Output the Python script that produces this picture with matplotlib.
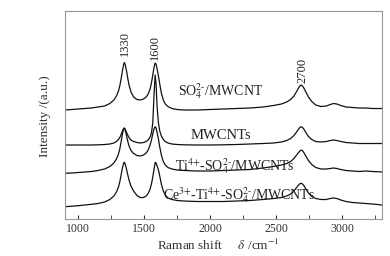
import matplotlib
matplotlib.use('Agg')
import matplotlib.pyplot as plt

plt.rcParams['font.family'] = ['Liberation Serif', 'DejaVu Serif']
plt.rcParams['mathtext.fontset'] = 'stix'

# Raman shift (cm-1), shared by all spectra
shift = [900, 950, 1000, 1050, 1100, 1150, 1200, 1240, 1270, 1290, 1305, 1315, 1325, 1335,
         1345, 1350, 1355, 1365, 1375, 1385, 1400, 1420, 1445, 1470, 1495, 1515, 1530, 1545,
         1555, 1565, 1575, 1583, 1590, 1598, 1608, 1618, 1630, 1645, 1660, 1680, 1710, 1750,
         1800, 1900, 2000, 2100, 2200, 2300, 2400, 2480, 2540, 2580, 2610, 2635, 2655, 2670,
         2680, 2690, 2700, 2712, 2725, 2745, 2770, 2800, 2840, 2880, 2910, 2935, 2960, 2990,
         3030, 3080, 3130, 3180, 3230, 3270, 3300]

# intensities (arbitrary, already offset)
so4_mwcnt = [109, 109.5, 110, 110.5, 111, 112, 113, 115.5, 119, 123, 128, 133, 140, 148,
             155, 156.5, 155, 149, 141, 134, 127, 122, 119.5, 119, 120, 122, 125, 130,
             136, 144, 152, 156, 155, 150, 143, 135, 126, 119, 115, 112.5, 110.5, 109.5,
             109, 109, 109.5, 110, 110.5, 111, 112, 113.5, 115, 117, 119.5, 123, 127.5, 131,
             133, 134, 133, 130.5, 127, 122, 117.5, 114, 112.5, 113, 114.5, 115.5, 115, 113.5,
             112, 111.5, 111, 111, 110.5, 110.5, 110.5]

mwcnts = [74, 74, 74, 74, 74, 74.2, 74.5, 75, 76, 77.5, 79.5, 81.5, 84.5, 88,
          90.5, 90.7, 90, 87, 84, 81.5, 79, 77.5, 76.5, 76, 76.5, 77.5, 79, 82,
          86, 96, 125, 144, 135, 112, 96, 88, 83, 79.5, 77.5, 76, 75, 74.5,
          74.2, 74, 74, 74.2, 74.5, 75, 75.5, 76, 77, 78.5, 80.5, 83.5, 87, 90,
          91.5, 92.3, 91.5, 89.5, 86.5, 82.5, 79.5, 77.5, 77, 77.5, 78.5, 79, 78.5, 77.5,
          76.5, 76, 75.5, 75.5, 75.5, 75.5, 75.5]

ti_so4 = [45.7, 46, 46.5, 47, 47.5, 48.5, 50, 52.5, 56, 60, 65, 70, 77, 85,
          90.5, 91, 89.5, 84, 78, 73, 68.5, 65.5, 63.5, 63, 64, 66, 69, 74,
          79, 85, 90.5, 92.3, 91, 86.5, 80, 72, 64, 57.5, 54, 51.5, 50, 49,
          48.5, 48, 48, 48.5, 49, 49.5, 51, 52.5, 54, 55.5, 57.5, 60.5, 64, 66.5,
          68, 69, 68.3, 66, 63, 58.5, 54.5, 51.5, 50, 50, 50.5, 51, 50.5, 49.5,
          48.5, 48, 47.5, 48, 47.5, 47.3, 47]

ce_ti_so4 = [12.3, 12.8, 13.3, 14, 14.7, 15.5, 17, 19.5, 23, 27, 32, 37, 44, 51,
             56, 56.7, 55.5, 50.5, 44.5, 39, 33, 28, 23.5, 21.5, 21.5, 23, 25.5, 30,
             35, 42, 50, 56.5, 56, 53, 49, 43, 35, 28, 24, 21, 19.5, 18.5,
             18, 17.5, 17.5, 17.5, 18, 18.5, 19.5, 20.5, 21.5, 23, 25, 28, 31.5, 34,
             35.3, 35.7, 35, 33, 30, 26, 22.5, 20.5, 19.5, 19.5, 20.5, 21, 20.5, 19,
             17.5, 16.5, 16, 15.5, 15, 14.5, 14]

spectra = [so4_mwcnt, mwcnts, ti_so4, ce_ti_so4]
names = [r'SO$_{\text{4}}^{\text{2-}}$/MWCNT', 'MWCNTs',
         r'Ti$^{\text{4+}}$-SO$_{\text{4}}^{\text{2-}}$/MWCNTs',
         r'Ce$^{\text{3+}}$-Ti$^{\text{4+}}$-SO$_{\text{4}}^{\text{2-}}$/MWCNTs']
name_pos = [(1760, 128), (1850, 84), (1730, 53), (1640, 24)]
name_size = [10, 10.5, 10, 10]

peaks = [1330, 1600, 2700]
peak_pos = [(1356, 176), (1584, 172), (2703, 149)]

fig = plt.figure(figsize=(3.9, 2.56), dpi=100)
ax = fig.add_axes([0.1667, 0.1445, 0.812, 0.8125])

for y in spectra:
    ax.plot(shift, y, color='#111111', lw=0.9)

for name, (x, y), fs in zip(names, name_pos, name_size):
    ax.text(x, y, name, fontsize=fs, ha='left', va='center', color='#222222')

for p, (x, y) in zip(peaks, peak_pos):
    ax.text(x, y, str(p), rotation=90, fontsize=9, ha='center', va='center', color='#222222')

ax.set_xlim(900, 3300)
ax.set_ylim(0, 208)
ax.set_xticks([1000, 1500, 2000, 2500, 3000])
ax.set_xticks([1250, 1750, 2250, 2750, 3250], minor=True)
ax.set_yticks([])
ax.tick_params(axis='x', which='both', direction='in', length=3, labelsize=8.5,
               colors='#333333', pad=3)
for s in ax.spines.values():
    s.set_color('#999999')
    s.set_linewidth(0.8)

fig.text(0.115, 0.547, 'Intensity /(a.u.)', rotation=90, fontsize=9.5,
         ha='center', va='center', color='#333333')
fig.text(0.56, 0.043, r'Raman shift     $\delta$ /cm$^{-1}$', fontsize=9.5,
         ha='center', va='center', color='#333333')

plt.savefig('out.png', dpi=100)
